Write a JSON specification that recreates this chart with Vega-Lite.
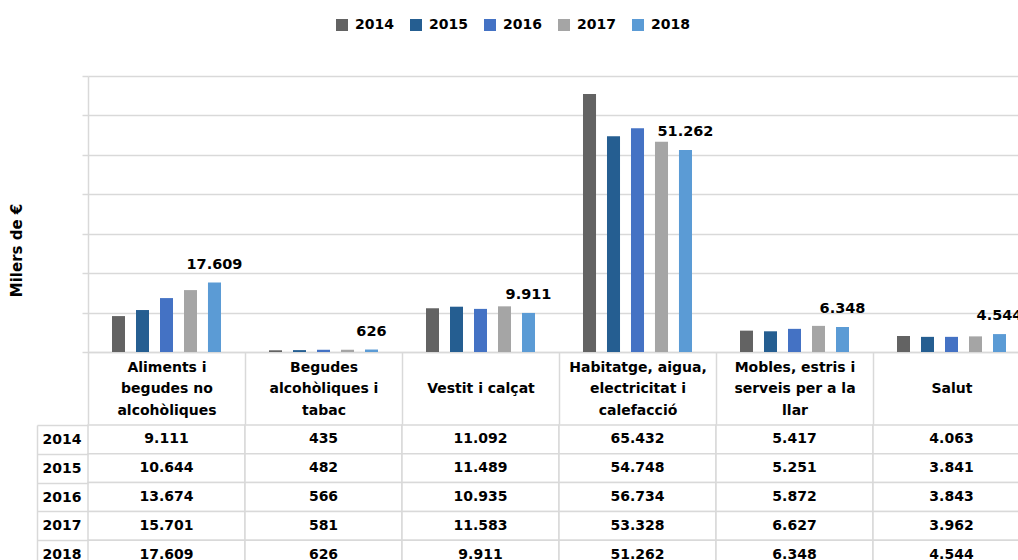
{
  "$schema": "https://vega.github.io/schema/vega-lite/v6.json",
  "padding": {"left": 9, "top": 18, "right": 0, "bottom": 0},
  "spacing": -8,
  "datasets": {
    "d": [
      {"category": "Aliments i begudes no alcohòliques", "year": "2014", "value": 9111},
      {"category": "Aliments i begudes no alcohòliques", "year": "2015", "value": 10644},
      {"category": "Aliments i begudes no alcohòliques", "year": "2016", "value": 13674},
      {"category": "Aliments i begudes no alcohòliques", "year": "2017", "value": 15701},
      {"category": "Aliments i begudes no alcohòliques", "year": "2018", "value": 17609},
      {"category": "Begudes alcohòliques i tabac", "year": "2014", "value": 435},
      {"category": "Begudes alcohòliques i tabac", "year": "2015", "value": 482},
      {"category": "Begudes alcohòliques i tabac", "year": "2016", "value": 566},
      {"category": "Begudes alcohòliques i tabac", "year": "2017", "value": 581},
      {"category": "Begudes alcohòliques i tabac", "year": "2018", "value": 626},
      {"category": "Vestit i calçat", "year": "2014", "value": 11092},
      {"category": "Vestit i calçat", "year": "2015", "value": 11489},
      {"category": "Vestit i calçat", "year": "2016", "value": 10935},
      {"category": "Vestit i calçat", "year": "2017", "value": 11583},
      {"category": "Vestit i calçat", "year": "2018", "value": 9911},
      {"category": "Habitatge, aigua, electricitat i calefacció", "year": "2014", "value": 65432},
      {"category": "Habitatge, aigua, electricitat i calefacció", "year": "2015", "value": 54748},
      {"category": "Habitatge, aigua, electricitat i calefacció", "year": "2016", "value": 56734},
      {"category": "Habitatge, aigua, electricitat i calefacció", "year": "2017", "value": 53328},
      {"category": "Habitatge, aigua, electricitat i calefacció", "year": "2018", "value": 51262},
      {"category": "Mobles, estris i serveis per a la llar", "year": "2014", "value": 5417},
      {"category": "Mobles, estris i serveis per a la llar", "year": "2015", "value": 5251},
      {"category": "Mobles, estris i serveis per a la llar", "year": "2016", "value": 5872},
      {"category": "Mobles, estris i serveis per a la llar", "year": "2017", "value": 6627},
      {"category": "Mobles, estris i serveis per a la llar", "year": "2018", "value": 6348},
      {"category": "Salut", "year": "2014", "value": 4063},
      {"category": "Salut", "year": "2015", "value": 3841},
      {"category": "Salut", "year": "2016", "value": 3843},
      {"category": "Salut", "year": "2017", "value": 3962},
      {"category": "Salut", "year": "2018", "value": 4544}
    ]
  },
  "vconcat": [
    {
      "width": 942,
      "height": 276,
      "data": {"name": "d"},
      "encoding": {
        "x": {
          "field": "category", "type": "nominal", "sort": null,
          "scale": {"paddingInner": 0, "paddingOuter": 0},
          "axis": {
            "title": null, "labelAngle": 0, "tickBand": "extent", "tickSize": 72,
            "tickColor": "#d9d9d9", "tickWidth": 1.5, "domainColor": "#d9d9d9", "domainWidth": 1.5,
            "labelPadding": -57, "labelBaseline": "middle", "labelFontSize": 14, "labelFontWeight": "bold",
            "labelColor": "black", "labelLineHeight": 21.5, "labelLimit": 0,
            "labelExpr": "datum.value == 'Aliments i begudes no alcohòliques' ? ['Aliments i','begudes no','alcohòliques'] : datum.value == 'Begudes alcohòliques i tabac' ? ['Begudes','alcohòliques i','tabac'] : datum.value == 'Habitatge, aigua, electricitat i calefacció' ? ['Habitatge, aigua,','electricitat i','calefacció'] : datum.value == 'Mobles, estris i serveis per a la llar' ? ['Mobles, estris  i','serveis per a la','llar'] : ['', datum.value]"
          }
        },
        "xOffset": {
          "field": "year", "type": "nominal",
          "scale": {"domain": ["2014", "2015", "2016", "2017", "2018"], "paddingInner": 0.457, "paddingOuter": 1.14}
        },
        "y": {
          "field": "value", "type": "quantitative",
          "scale": {"domain": [0, 70000], "nice": false},
          "axis": {
            "title": "Milers de €", "titleFontSize": 15, "titleFontWeight": "bold", "titleColor": "black",
            "titleX": -72, "titleY": 174, "titleAngle": -90, "titleBaseline": "middle", "titleAlign": "center",
            "labels": false, "tickSize": 6, "tickColor": "#d9d9d9", "tickWidth": 1.5,
            "domainColor": "#d9d9d9", "domainWidth": 1.5, "gridColor": "#d9d9d9", "gridWidth": 1.5,
            "values": [0, 10000, 20000, 30000, 40000, 50000, 60000, 70000]
          }
        }
      },
      "layer": [
        {
          "mark": {"type": "bar"},
          "encoding": {
            "color": {
              "field": "year", "type": "nominal",
              "scale": {"domain": ["2014", "2015", "2016", "2017", "2018"], "range": ["#636363", "#255e91", "#4472c4", "#a5a5a5", "#5b9bd5"]},
              "legend": {
                "orient": "none", "legendX": 247, "legendY": -58, "direction": "horizontal", "title": null,
                "symbolType": "square", "symbolSize": 144, "symbolStrokeWidth": 0,
                "labelFontSize": 14, "labelFontWeight": "bold", "labelColor": "black",
                "columnPadding": 15, "labelOffset": 6
              }
            }
          }
        },
        {
          "transform": [{"filter": "datum.year == '2018'"}],
          "mark": {"type": "text", "baseline": "bottom", "dy": -11, "fontSize": 14.5, "fontWeight": "bold", "color": "black"},
          "encoding": {"text": {"field": "value", "type": "quantitative", "format": ",d"}}
        }
      ]
    },
    {
      "width": 942,
      "height": 144,
      "data": {"name": "d"},
      "encoding": {
        "x": {
          "field": "category", "type": "nominal", "sort": null,
          "scale": {"paddingInner": 0, "paddingOuter": 0}, "axis": null
        },
        "y": {
          "field": "year", "type": "nominal", "sort": null,
          "scale": {"paddingInner": 0, "paddingOuter": 0},
          "axis": {
            "title": null, "orient": "left", "offset": 51,
            "domainColor": "#d9d9d9", "domainWidth": 1.5,
            "tickBand": "extent", "tickSize": -51, "tickColor": "#d9d9d9", "tickWidth": 1.5,
            "labelAlign": "left", "labelPadding": 46, "labelBaseline": "middle",
            "labelFontSize": 14, "labelFontWeight": "bold", "labelColor": "black"
          }
        }
      },
      "layer": [
        {"mark": {"type": "rect", "fill": "white", "stroke": "#d9d9d9", "strokeWidth": 1.5}},
        {
          "mark": {"type": "text", "fontSize": 14, "fontWeight": "bold", "color": "black"},
          "encoding": {"text": {"field": "value", "type": "quantitative", "format": ",d"}}
        }
      ]
    }
  ],
  "resolve": {"scale": {"x": "independent", "y": "independent"}},
  "config": {
    "font": "DejaVu Sans",
    "view": {"stroke": null},
    "locale": {"number": {"decimal": ",", "thousands": ".", "grouping": [3], "currency": ["", " €"]}}
  }
}
